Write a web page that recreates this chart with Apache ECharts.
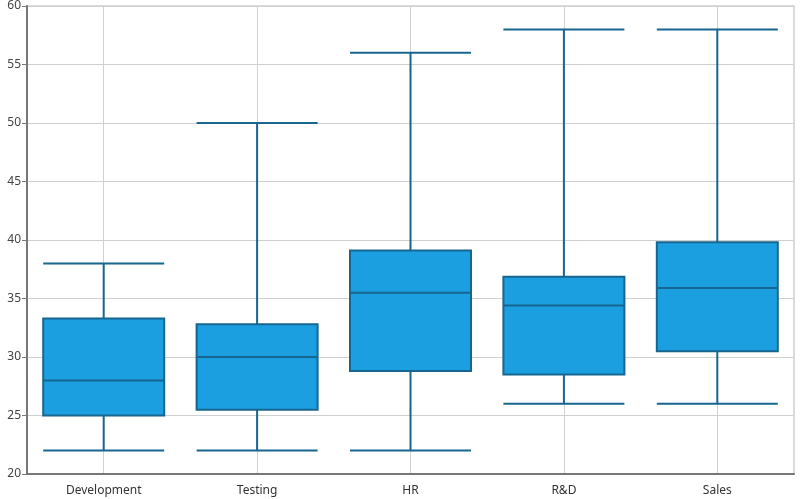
<!DOCTYPE html>
<html>
<head>
<meta charset="utf-8">
<script src="https://cdn.jsdelivr.net/npm/echarts@6/dist/echarts.min.js"></script>
<style>
  html, body { margin: 0; padding: 0; background: #fff; }
  #chart { width: 800px; height: 499px; }
</style>
</head>
<body>
<div id="chart"></div>
<script>
// departments along the x axis
var departments = ['Development', 'Testing', 'HR', 'R&D', 'Sales'];
// [min, Q1, median, Q3, max]
var minValues    = [22, 22, 22, 26, 26];
var q1Values     = [25, 25.5, 28.8, 28.5, 30.5];
var medianValues = [28, 30, 35.5, 34.4, 35.9];
var q3Values     = [33.3, 32.8, 39.1, 36.85, 39.8];
var maxValues    = [38, 50, 56, 58, 58];
var yTicks = { min: 20, max: 60, interval: 5 };

function grafico() {
  var chart = document.getElementById('chart');
  var myChart = echarts.init(chart);

  var boxData = departments.map(function (d, i) {
    return [minValues[i], q1Values[i], medianValues[i], q3Values[i], maxValues[i]];
  });

  var option = {
    animation: false,
    textStyle: { fontFamily: 'Noto Sans' },
    grid: {
      left: 27, right: 6, top: 6, bottom: 25,
      show: true, borderColor: '#cfcfcf', borderWidth: 1.5
    },
    xAxis: {
      type: 'category',
      data: departments,
      boundaryGap: true,
      axisLine: { lineStyle: { color: '#777', width: 2 } },
      axisTick: { alignWithLabel: true, length: 5, lineStyle: { color: '#777' } },
      axisLabel: { color: '#333', fontSize: 12, margin: 11 },
      splitLine: { show: true, alignWithLabel: true, lineStyle: { color: '#d0d0d0' } }
    },
    yAxis: {
      type: 'value',
      min: yTicks.min,
      max: yTicks.max,
      interval: yTicks.interval,
      axisLine: { show: true, lineStyle: { color: '#777', width: 2 } },
      axisTick: { show: true, length: 5, lineStyle: { color: '#777' } },
      axisLabel: { color: '#444', fontSize: 12, margin: 6 },
      splitLine: { show: true, lineStyle: { color: '#d0d0d0' } }
    },
    series: [
      {
        type: 'boxplot',
        data: boxData,
        boxWidth: [121, 121],
        itemStyle: {
          color: '#1c9fe0',
          borderColor: '#17668f',
          borderWidth: 2
        }
      }
    ]
  };

  myChart.setOption(option);
}

grafico();
</script>
</body>
</html>
